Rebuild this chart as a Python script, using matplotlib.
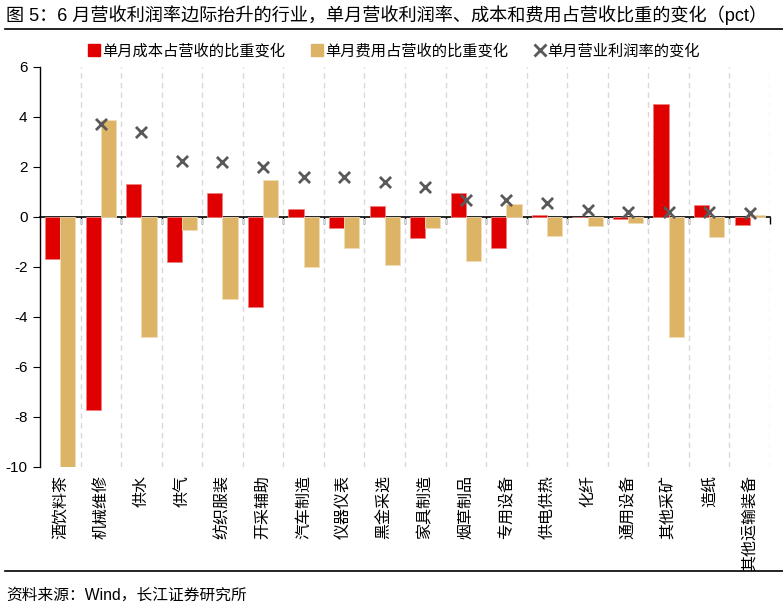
import numpy as np
import matplotlib
matplotlib.use('Agg')
import matplotlib.pyplot as plt
from matplotlib.lines import Line2D

plt.rcParams['font.family'] = ['Liberation Sans', 'Noto Sans CJK SC', 'DejaVu Sans']
plt.rcParams['axes.unicode_minus'] = False

# categories sorted by change in operating margin
industries = ['酒饮料茶', '机械维修', '供水', '供气', '纺织服装', '开采辅助', '汽车制造',
              '仪器仪表', '黑金采选', '家具制造', '烟草制品', '专用设备', '供电供热',
              '化纤', '通用设备', '其他采矿', '造纸', '其他运输装备']
cost_chg = [-1.66, -7.70, 1.31, -1.78, 0.96, -3.59, 0.31, -0.44, 0.44, -0.83,
            0.96, -1.24, 0.09, 0.0, -0.07, 4.51, 0.50, -0.33]
expense_chg = [-10.07, 3.90, -4.79, -0.52, -3.27, 1.49, -1.99, -1.22, -1.91, -0.43,
               -1.74, 0.51, -0.75, -0.35, -0.23, -4.79, -0.78, 0.07]
margin_chg = [11.70, 3.72, 3.40, 2.25, 2.22, 2.02, 1.59, 1.59, 1.39, 1.20,
              0.67, 0.67, 0.56, 0.28, 0.21, 0.21, 0.20, 0.17]

red = '#E00000'
gold = '#DDB466'
gray = '#595959'

fig = plt.figure(figsize=(7.83, 6.09), dpi=100)
ax = fig.add_axes([40/783, 1-467/609, 730/783, 400/609])

x = np.arange(len(industries))
w = 0.375
ax.bar(x - w/2, cost_chg, w, color=red, edgecolor='#F08080', linewidth=0.6, zorder=2)
ax.bar(x + w/2, expense_chg, w, color=gold, edgecolor='#F0DDB8', linewidth=0.6, zorder=2)
ax.scatter(x, margin_chg, marker='x', s=64, color=gray, linewidths=2, zorder=4, clip_on=True)

ax.set_xlim(-0.5, len(industries) - 0.5)
ax.set_ylim(-10, 6)
ax.set_yticks(np.arange(-10, 7, 2))
ax.tick_params(axis='y', direction='out', length=5, labelsize=11, pad=4)
ax.set_xticks(x)
ax.set_xticklabels(industries, rotation=90, fontsize=11.5)
ax.tick_params(axis='x', length=0, pad=6)

for s in ['top', 'right', 'bottom']:
    ax.spines[s].set_visible(False)
ax.spines['left'].set_linewidth(1.0)

# dashed separators between categories
for b in np.arange(0.5, len(industries), 1.0):
    ax.axvline(b, color='#D9D9D9', linestyle=(0, (4, 3)), linewidth=1, zorder=1)

# zero line with inward ticks at category boundaries
zero = ax.secondary_xaxis(10/16)
zero.set_xticks(np.arange(0.5, len(industries), 1.0))
zero.tick_params(direction='in', length=5, labelbottom=False, labeltop=False, width=1)
zero.spines['bottom'].set_linewidth(1.2)
zero.spines['top'].set_linewidth(1.2)

handles = [Line2D([], [], marker='s', linestyle='none', color=red, markersize=8),
           Line2D([], [], marker='s', linestyle='none', color=gold, markersize=8),
           Line2D([], [], marker='x', linestyle='none', color=gray, markersize=8, markeredgewidth=2)]
labels = ['单月成本占营收的比重变化', '单月费用占营收的比重变化', '单月营业利润率的变化']
fig.legend(handles, labels, loc='center', bbox_to_anchor=(395/783, 1-51/609), ncol=3,
           frameon=False, fontsize=11, handlelength=0.6, handletextpad=0.2,
           columnspacing=1.8)

fig.text(6/783, 1-15/609, '图 5：6 月营收利润率边际抬升的行业，单月营收利润率、成本和费用占营收比重的变化（pct）',
         fontsize=13.1, va='center', ha='left')
fig.add_artist(Line2D([5/783, 1], [1-28.5/609]*2, color='black', linewidth=1.2))
fig.add_artist(Line2D([5/783, 1], [1-571/609]*2, color='black', linewidth=1.2))
fig.text(6/783, 1-595/609, '资料来源：Wind，长江证券研究所', fontsize=11.3, va='center', ha='left')

fig.savefig('out.png', dpi=100)
